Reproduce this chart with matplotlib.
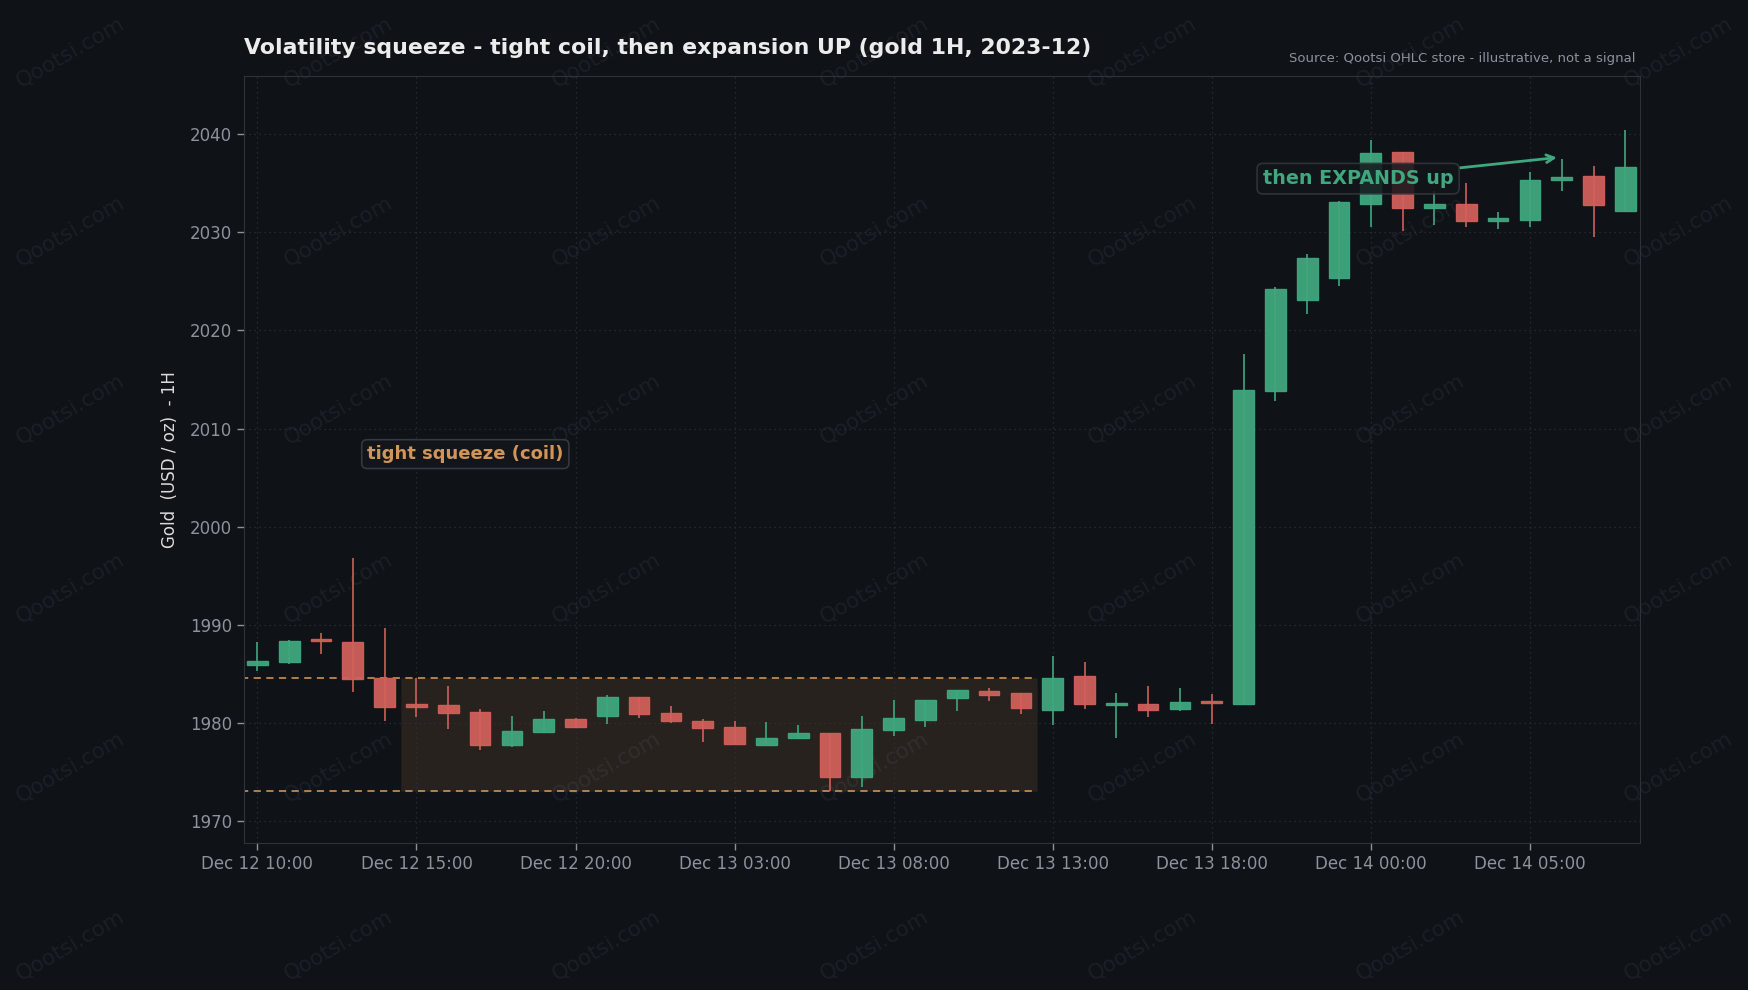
import matplotlib
matplotlib.use('Agg')
import matplotlib.pyplot as plt
from matplotlib.patches import Rectangle

BG = '#0f1217'
GREEN = '#40a77e'
RED = '#d0605a'
COIL = '#d1955a'
TICK = '#8d929b'

opens = [1985.9, 1986.2, 1988.5, 1988.3, 1984.6, 1981.9, 1981.9, 1981.1, 1977.8, 1979.1,
         1980.4, 1980.7, 1982.7, 1981.0, 1980.2, 1979.6, 1977.8, 1978.5, 1979.0, 1974.5,
         1979.3, 1980.3, 1982.6, 1983.3, 1983.1, 1981.3, 1984.8, 1981.9, 1982.0, 1981.4,
         1982.2, 1982.0, 2013.8, 2023.1, 2025.3, 2032.9, 2038.2, 2032.5, 2032.9, 2031.2,
         2031.2, 2035.4, 2035.7, 2032.2]
highs = [1988.3, 1988.5, 1989.2, 1996.8, 1989.7, 1984.6, 1983.8, 1981.4, 1980.7, 1981.2,
         1980.5, 1982.9, 1982.7, 1981.7, 1980.4, 1980.2, 1980.1, 1979.8, 1979.0, 1980.7,
         1982.4, 1982.4, 1983.4, 1983.6, 1983.1, 1986.8, 1986.2, 1983.1, 1983.8, 1983.6,
         1983.0, 2017.6, 2024.4, 2027.8, 2033.2, 2039.4, 2038.2, 2034.2, 2035.0, 2032.1,
         2036.1, 2037.5, 2036.7, 2040.4]
lows = [1985.3, 1986.0, 1987.0, 1983.2, 1980.2, 1980.6, 1979.4, 1977.3, 1977.6, 1979.0,
        1979.5, 1979.9, 1980.5, 1980.0, 1978.1, 1977.8, 1977.7, 1978.4, 1973.1, 1973.5,
        1978.7, 1979.6, 1981.2, 1982.3, 1980.9, 1979.8, 1981.4, 1978.5, 1980.6, 1981.2,
        1979.9, 1982.0, 2012.8, 2021.7, 2024.5, 2030.5, 2030.1, 2030.7, 2030.5, 2030.3,
        2030.5, 2034.2, 2029.5, 2032.2]
closes = [1986.3, 1988.4, 1988.4, 1984.5, 1981.6, 1981.7, 1981.0, 1977.8, 1979.2, 1980.4,
          1979.6, 1982.7, 1980.9, 1980.2, 1979.5, 1977.9, 1978.5, 1979.0, 1974.5, 1979.4,
          1980.5, 1982.4, 1983.4, 1982.9, 1981.5, 1984.6, 1982.0, 1982.0, 1981.3, 1982.2,
          1982.1, 2013.9, 2024.2, 2027.4, 2033.1, 2038.1, 2032.5, 2032.9, 2031.1, 2031.4,
          2035.3, 2035.5, 2032.8, 2036.6]

tick_pos = [0, 5, 10, 15, 20, 25, 30, 35, 40]
tick_labels = ['Dec 12 10:00', 'Dec 12 15:00', 'Dec 12 20:00', 'Dec 13 03:00', 'Dec 13 08:00',
               'Dec 13 13:00', 'Dec 13 18:00', 'Dec 14 00:00', 'Dec 14 05:00']
coil_start, coil_end = 5, 24


def main():
    plt.rcParams['font.family'] = ['DejaVu Sans']
    fig = plt.figure(figsize=(17.48, 9.9), dpi=100, facecolor=BG)
    ax = fig.add_axes([0.1396, 0.1485, 0.7986, 0.7747], facecolor='none')

    # watermark, under the axes
    for i in range(7):
        for j in range(6):
            fig.text(0.040 + 0.1533 * i, 1 - (0.053 + 0.1804 * j), 'Qootsi.com', rotation=30,
                     ha='center', va='center', fontsize=15.5, color='#1b1f26', zorder=-5)

    w = 0.65
    for i, (o, h, l, c) in enumerate(zip(opens, highs, lows, closes)):
        col = GREEN if c >= o else RED
        ax.vlines(i, l, h, color=col, lw=1.2, zorder=3)
        bot = min(o, c)
        ht = max(abs(c - o), 0.25)
        if abs(c - o) < 0.25:
            bot = (o + c) / 2 - ht / 2
        ax.add_patch(Rectangle((i - w / 2, bot), w, ht, facecolor=col, edgecolor=col,
                               lw=1.0, alpha=0.95, zorder=4))

    hi = max(highs[coil_start:coil_end + 1])
    lo = min(lows[coil_start:coil_end + 1])
    x0, x1 = coil_start - 0.5, coil_end + 0.5
    ax.add_patch(Rectangle((x0, lo), x1 - x0, hi - lo, facecolor=COIL, alpha=0.13,
                           edgecolor='#3a2e22', lw=1, zorder=1))
    ax.hlines([hi, lo], -0.5, x1, colors=COIL, linestyles=(0, (4, 3)), lw=1.3, alpha=0.9, zorder=2)

    ax.text(3.45, 2007.4, 'tight squeeze (coil)', color=COIL, fontsize=13, fontweight='bold',
            ha='left', va='center', zorder=6,
            bbox=dict(boxstyle='round,pad=0.3', fc='#12151a', ec='#34383f', lw=1.2))
    ax.annotate('then EXPANDS up', xy=(40.85, 2037.6), xytext=(34.6, 2035.45),
                color=GREEN, fontsize=13.8, fontweight='bold', ha='center', va='center', zorder=6,
                bbox=dict(boxstyle='round,pad=0.3', fc='#12151a', ec='#34383f', lw=1.2, alpha=0.85),
                arrowprops=dict(arrowstyle='->', color=GREEN, lw=2, shrinkA=0, shrinkB=0))

    ax.set_xlim(-0.42, 43.46)
    ax.set_ylim(1967.8, 2045.9)
    ax.set_xticks(tick_pos)
    ax.set_xticklabels(tick_labels)
    ax.set_yticks(range(1970, 2041, 10))
    ax.tick_params(colors=TICK, labelsize=12, length=5, width=1)
    ax.grid(True, color='#2c3039', ls=(0, (1, 3)), lw=0.9, zorder=0)
    for s in ax.spines.values():
        s.set_color('#2e323a')
    ax.set_ylabel('Gold  (USD / oz)  - 1H', color='#dcdcdc', fontsize=12, labelpad=8)

    fig.text(0.1396, 0.9515, 'Volatility squeeze - tight coil, then expansion UP (gold 1H, 2023-12)',
             color='#ececec', fontsize=15.8, fontweight='bold', ha='left', va='center')
    fig.text(0.9355, 0.9414, 'Source: Qootsi OHLC store - illustrative, not a signal',
             color=TICK, fontsize=9.5, ha='right', va='center')

    fig.savefig('out.png', facecolor=BG)


if __name__ == '__main__':
    main()
